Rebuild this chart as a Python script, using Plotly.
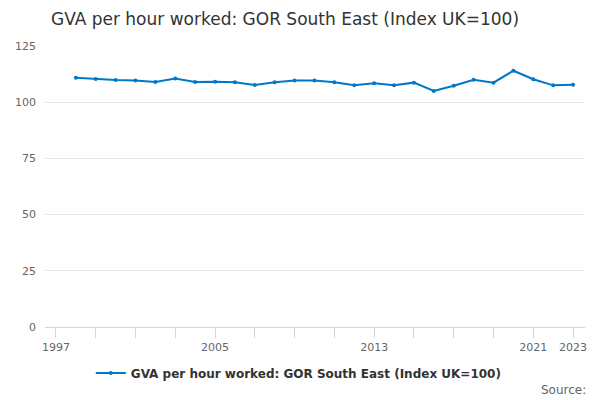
import plotly.graph_objects as go

# GVA per hour worked, South East, index UK=100
years = list(range(1998, 2024))
gva_index = [110.9, 110.3, 109.9, 109.7, 109.0, 110.5, 109.0, 109.1, 108.9, 107.7,
             108.9, 109.7, 109.7, 108.9, 107.5, 108.4, 107.5, 108.7, 105.0, 107.3,
             110.0, 108.7, 114.0, 110.2, 107.5, 107.8]

tick_years = list(range(1997, 2024, 2))
labelled = [1997, 2005, 2013, 2021, 2023]
tick_text = [str(y) if y in labelled else "" for y in tick_years]
y_ticks = [0, 25, 50, 75, 100, 125]

series_name = "GVA per hour worked: GOR South East (Index UK=100)"
blue = "#0077c8"

fig = go.Figure()
fig.add_trace(go.Scatter(
    x=years, y=gva_index, mode="lines+markers", name=series_name,
    line=dict(color=blue, width=2),
    marker=dict(color=blue, size=4),
))

fig.update_layout(
    width=600, height=400,
    margin=dict(l=45, r=15, t=46, b=73),
    paper_bgcolor="white", plot_bgcolor="white",
    font=dict(family="DejaVu Sans", color="#666666", size=11),
    title=dict(text=series_name, x=0.475, xref="container", xanchor="center",
               y=0.952, yref="container", yanchor="middle",
               font=dict(size=17, color="#333333")),
    showlegend=True,
    legend=dict(orientation="h", x=0.47, xanchor="center", y=-0.164, yanchor="middle",
                font=dict(size=12, color="#333333", family="DejaVu Sans", weight="bold"),
                itemwidth=30),
    xaxis=dict(range=[1996.45, 2023.6], tickvals=tick_years, ticktext=tick_text,
               showgrid=False, zeroline=False, showline=True, linecolor="#ccd6eb",
               ticks="outside", ticklen=10, tickcolor="#ccd6eb"),
    yaxis=dict(range=[0, 125], tickvals=y_ticks, showgrid=True, gridcolor="#e6e6e6",
               zeroline=False, ticks="", ticklabelstandoff=8),
)

fig.add_annotation(text="Source:", xref="paper", yref="paper", x=1.0056, y=-0.224,
                   xanchor="right", yanchor="middle", showarrow=False,
                   font=dict(size=12, color="#666666"))

fig.write_html("out.html", config={"displayModeBar": False},
               post_script="document.body.style.margin='0';")
